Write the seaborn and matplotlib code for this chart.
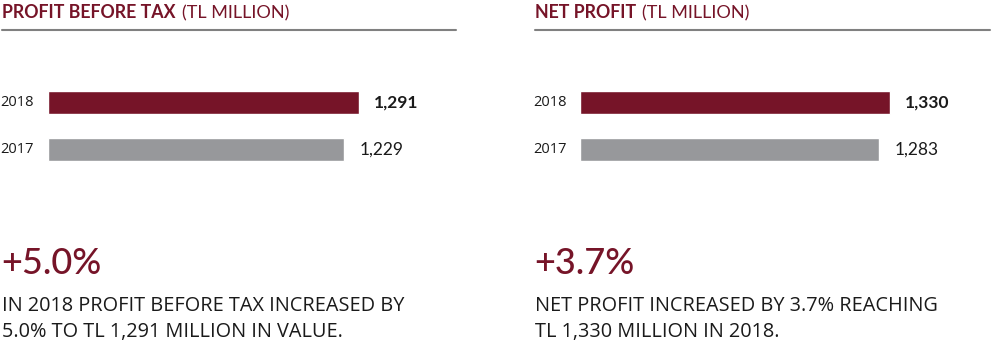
import matplotlib
matplotlib.use("Agg")
import matplotlib.pyplot as plt
import seaborn as sns
import pandas as pd
from matplotlib.lines import Line2D

sns.set_theme(style="white")
plt.rcParams['font.family'] = ['Lato', 'DejaVu Sans']

years = ["2018", "2017"]
pbt_values = [1291, 1229]
net_values = [1330, 1283]
titles_bold = ["PROFIT BEFORE TAX", "NET PROFIT"]
title_light = "(TL MILLION)"
changes = ["+5.0%", "+3.7%"]
notes = [["IN 2018 PROFIT BEFORE TAX INCREASED BY", "5.0% TO TL 1,291 MILLION IN VALUE."],
         ["NET PROFIT INCREASED BY 3.7% REACHING", "TL 1,330 MILLION IN 2018."]]

RED = "#761428"
GRAY = "#97989b"
W, H = 1000, 360
fig = plt.figure(figsize=(10, 3.6), dpi=100)
fig.canvas.draw()
renderer = fig.canvas.get_renderer()

panels = [
    dict(vals=pbt_values, x0=2, x1=456, ax_l=48, ax_r=456, xmax=1694),
    dict(vals=net_values, x0=535, x1=990, ax_l=580, ax_r=990, xmax=1760),
]

for i, p in enumerate(panels):
    # header
    t = fig.text(p['x0'] / W, 1 - 18 / H, titles_bold[i], color=RED, fontsize=12.8,
                 fontweight='bold', va='baseline', ha='left')
    bb = t.get_window_extent(renderer)
    fig.text((bb.x1 + 6) / W, 1 - 18 / H, title_light, color=RED, fontsize=13,
             fontweight='normal', va='baseline', ha='left')
    fig.add_artist(Line2D([p['x0'] / W, p['x1'] / W], [1 - 30 / H, 1 - 30 / H],
                          color="#808080", lw=1.5, transform=fig.transFigure))

    # bars
    ax = fig.add_axes([p['ax_l'] / W, 1 - 173 / H, (p['ax_r'] - p['ax_l']) / W, 94 / H])
    df = pd.DataFrame({"year": years, "value": p['vals']})
    sns.barplot(data=df, y="year", x="value", hue="year", palette=[RED, GRAY],
                orient="h", width=0.49, ax=ax, legend=False, order=years,
                saturation=1)
    ax.set_xlim(0, p['xmax'])
    ax.set_ylim(1.5, -0.5)
    ax.axis('off')
    for j, (y, v) in enumerate(zip(years, p['vals'])):
        ax.annotate(f"{v:,}", (v, j), xytext=(11, 0), textcoords='offset points',
                    va='center', ha='left', fontsize=12.5,
                    fontweight='bold' if j == 0 else 'normal', color="#1a1a1a")
        ax.annotate(y, (0, j), xytext=(-(p['ax_l'] - p['x0'] + 2) * 0.72, 0),
                    textcoords='offset points', va='center', ha='left',
                    fontsize=10.5, color="#1a1a1a", annotation_clip=False,
                    family=['Open Sans', 'DejaVu Sans'])

    # change and note
    fig.text((p['x0'] - 1) / W, 1 - 274 / H, changes[i], color=RED, fontsize=26,
             fontweight='medium', va='baseline', ha='left')
    for k, line in enumerate(notes[i]):
        fig.text(p['x0'] / W, 1 - (311 + 26 * k) / H, line, color="#1a1a1a",
                 fontsize=14.3, va='baseline', ha='left',
                 family=['Open Sans', 'DejaVu Sans'])

fig.savefig("out.png", dpi=100, facecolor="white")
